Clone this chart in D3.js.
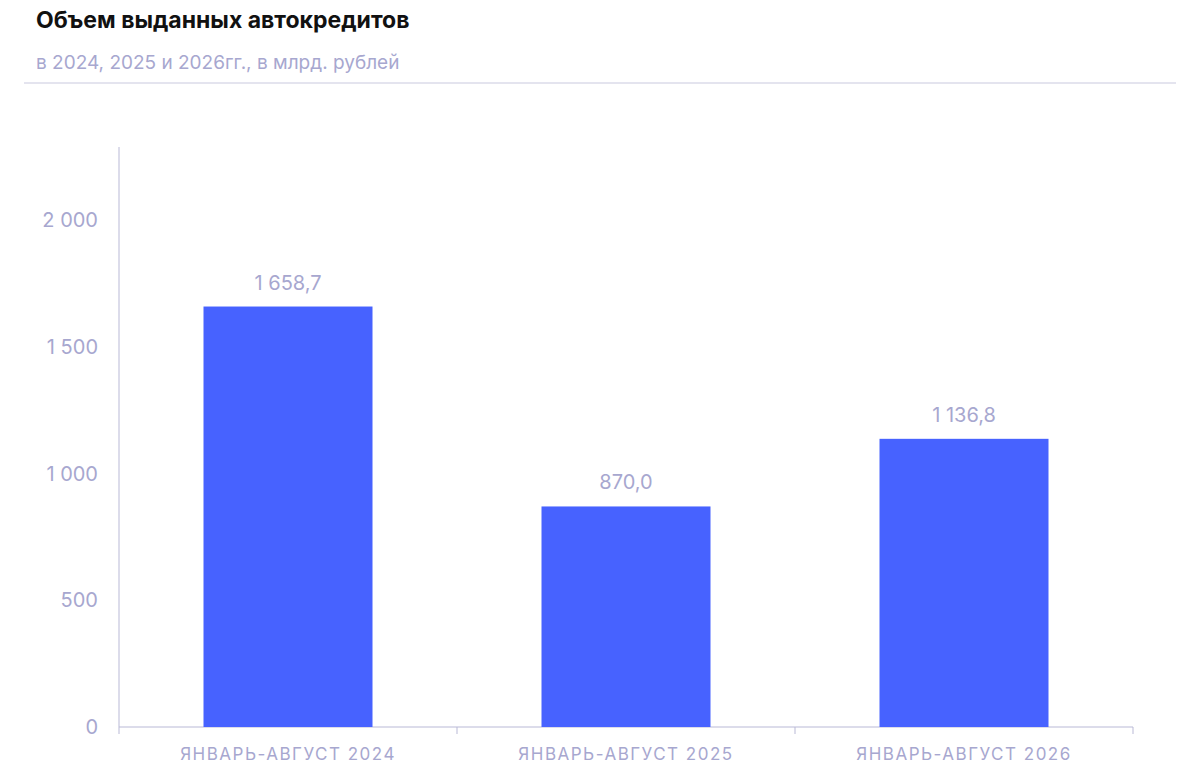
<!DOCTYPE html>
<html><head><meta charset="utf-8">
<script src="https://cdn.jsdelivr.net/npm/d3@7"></script>
<style>body{margin:0;background:#fff;font-family:Inter,"Noto Sans",sans-serif}</style>
</head><body><svg id="viz" width="1200" height="780"></svg>
<script>
const categories = ["ЯНВАРЬ-АВГУСТ 2024", "ЯНВАРЬ-АВГУСТ 2025", "ЯНВАРЬ-АВГУСТ 2026"]
const values = [1658.7, 870.0, 1136.8]
const yTicks = [0, 500, 1000, 1500, 2000]

const muted = "#a7a7cf", axisCol = "#b9b9d6"
const fmt = v => d3.format(",.1f")(v).replace(/,/g, " ").replace(".", ",")
const fmtTick = v => d3.format(",")(v).replace(/,/g, " ")

let svg = d3.select("#viz")

svg.append("text").attr("x", 36).attr("y", 28).text("Объем выданных автокредитов")
    .attr("font-size", 23).attr("font-weight", 700).attr("fill", "#111")
svg.append("text").attr("x", 36).attr("y", 69).text("в 2024, 2025 и 2026гг., в млрд. рублей")
    .attr("font-size", 19).attr("fill", muted)
svg.append("line").attr("x1", 24).attr("x2", 1176).attr("y1", 83).attr("y2", 83)
    .attr("stroke", "#c9c9de")

let x = d3.scaleBand().domain(categories).range([119, 1133]).paddingInner(0.5).paddingOuter(0.25)
let y = d3.scaleLinear().domain([0, 2288]).range([727, 147])

svg.append("line").attr("x1", 119).attr("x2", 119).attr("y1", 147).attr("y2", 727).attr("stroke", axisCol)
svg.append("line").attr("x1", 119).attr("x2", 1133).attr("y1", 727).attr("y2", 727).attr("stroke", axisCol)

// category separators
let step = x.step()
d3.range(categories.length + 1).forEach(i => {
    let xx = 119 + i * step
    svg.append("line").attr("x1", xx).attr("x2", xx).attr("y1", 727).attr("y2", 734).attr("stroke", axisCol)
})

svg.append("g").selectAll("text").data(yTicks).enter().append("text")
    .attr("x", 98).attr("y", d => y(d) + 7).attr("text-anchor", "end")
    .attr("font-size", 20).attr("fill", muted).text(fmtTick)

svg.append("g").selectAll("rect").data(values).enter().append("rect")
    .attr("x", (d, i) => x(categories[i])).attr("width", x.bandwidth())
    .attr("y", d => y(d)).attr("height", d => y(0) - y(d)).attr("fill", "#4762ff")

svg.append("g").selectAll("text").data(values).enter().append("text")
    .attr("x", (d, i) => x(categories[i]) + x.bandwidth() / 2).attr("y", d => y(d) - 17)
    .attr("text-anchor", "middle").attr("font-size", 20).attr("fill", muted).text(fmt)

svg.append("g").selectAll("text").data(categories).enter().append("text")
    .attr("x", d => x(d) + x.bandwidth() / 2).attr("y", 760)
    .attr("text-anchor", "middle").attr("font-size", 17).attr("letter-spacing", 1.5)
    .attr("fill", muted).text(d => d)
</script></body></html>
